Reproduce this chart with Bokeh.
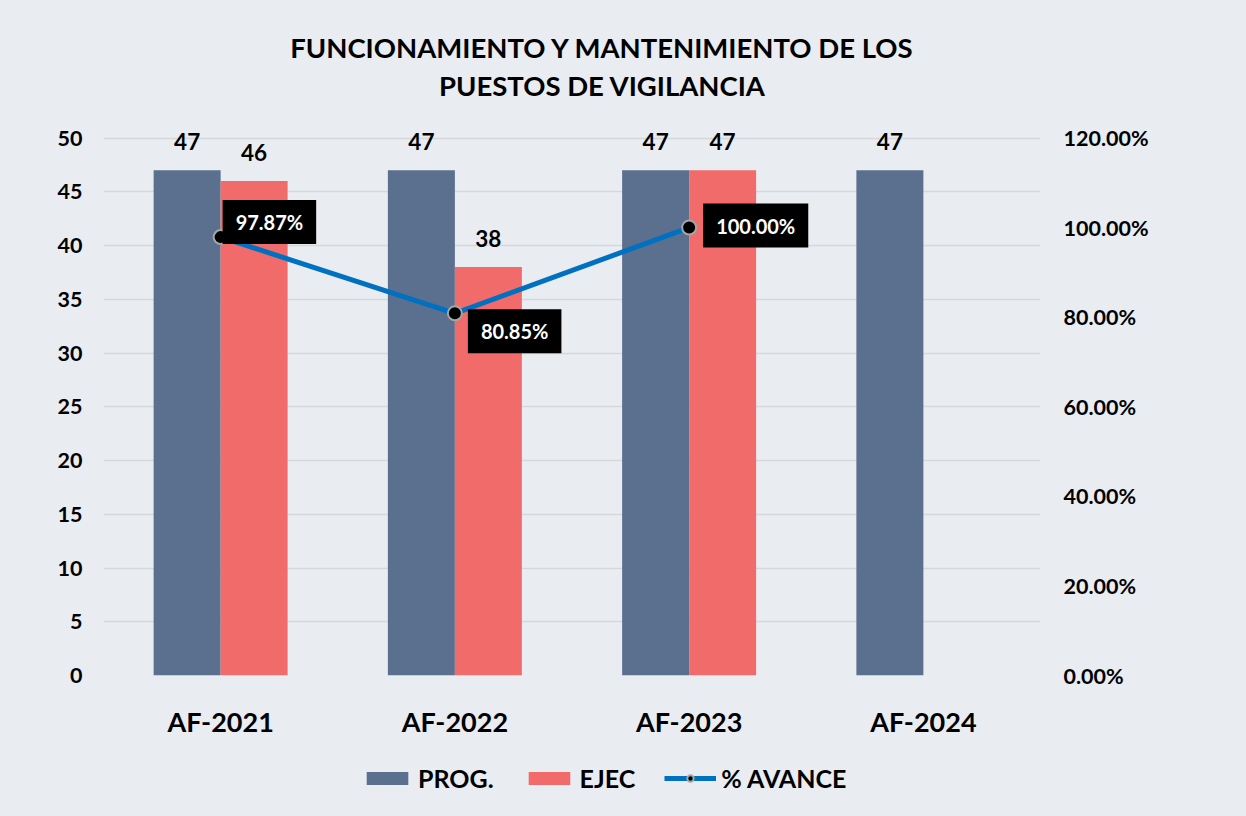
from bokeh.plotting import figure
from bokeh.layouts import column
from bokeh.models import (FactorRange, Range1d, LinearAxis, NumeralTickFormatter,
                          FixedTicker, ColumnDataSource, Label, Legend, LegendItem)
from bokeh.transform import dodge
from bokeh.core.properties import value
from bokeh.embed import file_html
from bokeh.resources import INLINE

# ---- data ----
categories = ["AF-2021", "AF-2022", "AF-2023", "AF-2024"]
prog = [47, 47, 47, 47]
ejec = [46, 38, 47, None]
avance = [0.9787, 0.8085, 1.0, None]
title_lines = ["FUNCIONAMIENTO Y MANTENIMIENTO DE LOS", "PUESTOS DE VIGILANCIA"]
legend_labels = ["PROG.", "EJEC", "% AVANCE"]
y_ticks = list(range(0, 51, 5))
pct_ticks = [0, 0.2, 0.4, 0.6, 0.8, 1.0, 1.2]

BG = "#E9ECF1"
C_PROG = "#5B6F8E"
C_EJEC = "#F26B6B"
C_LINE = "#0070C0"
FONT = "Lato"

W = 1240
FL, FR = 103, 1040          # frame left / right (canvas px)
H_TITLE, H_MAIN, H_LEG = 110, 630, 70
Y_TOP = 52                   # a little headroom above the 50 gridline for labels
PCT_TOP = max(pct_ticks) * Y_TOP / max(y_ticks)


def blank(h):
    f = figure(width=W, height=h, x_range=Range1d(FL, FR), y_range=Range1d(0, h),
               output_backend="svg", toolbar_location=None, x_axis_type=None,
               y_axis_type=None, background_fill_color=BG, border_fill_color=BG,
               outline_line_color=None, min_border=0, min_border_left=FL,
               min_border_right=W - FR, title=None)
    f.grid.visible = False
    return f


# ---- title ----
pt = blank(H_TITLE)
for line, yy in zip(title_lines, (H_TITLE - 47, H_TITLE - 85)):
    pt.add_layout(Label(x=602, y=yy, text=line, text_align="center",
                        text_baseline="middle", text_font=FONT,
                        text_font_style="bold", text_font_size="27.5px",
                        text_color="black"))

# ---- main chart ----
p = figure(width=W, height=H_MAIN, x_range=FactorRange(factors=categories),
           y_range=Range1d(0, Y_TOP), output_backend="svg", toolbar_location=None,
           background_fill_color=BG, border_fill_color=BG, outline_line_color=None,
           min_border_left=FL, min_border_right=W - FR, min_border_top=6,
           min_border_bottom=65, title=None)
p.extra_y_ranges = {"pct": Range1d(0, PCT_TOP)}

src_p = ColumnDataSource(dict(cat=categories, v=prog, t=[str(v) for v in prog]))
e_cats = [c for c, v in zip(categories, ejec) if v is not None]
e_vals = [v for v in ejec if v is not None]
src_e = ColumnDataSource(dict(cat=e_cats, v=e_vals, t=[str(v) for v in e_vals]))

bw = 0.286
p.vbar(x=dodge("cat", -bw / 2, range=p.x_range), top="v", width=bw,
       source=src_p, fill_color=C_PROG, line_color=None)
p.vbar(x=dodge("cat", bw / 2, range=p.x_range), top="v", width=bw,
       source=src_e, fill_color=C_EJEC, line_color=None)

for src, off in ((src_p, -bw / 2), (src_e, bw / 2)):
    p.text(x=dodge("cat", off, range=p.x_range), y="v", text="t", source=src,
           text_align="center", text_baseline="alphabetic", y_offset=-29,
           text_font=value(FONT), text_font_style="bold", text_font_size="22.5px",
           text_color="black")

l_cats = [c for c, v in zip(categories, avance) if v is not None]
l_vals = [v for v in avance if v is not None]
src_l = ColumnDataSource(dict(cat=l_cats, v=l_vals))
p.line(x="cat", y="v", source=src_l, y_range_name="pct",
       line_color=C_LINE, line_width=5)
p.scatter(x="cat", y="v", source=src_l, y_range_name="pct", size=14,
          fill_color="black", line_color="#A6A6A6", line_width=2)

offsets = [(2, 15), (13, -18), (14, 2)]
for i, (c, v) in enumerate(zip(categories, avance)):
    if v is None:
        continue
    xo, yo = offsets[i]
    p.add_layout(Label(x=i + 0.5, y=v, y_range_name="pct", text=f"{v*100:.2f}%",
                       x_offset=xo, y_offset=yo, text_align="left",
                       text_baseline="middle", text_color="white",
                       text_font=FONT, text_font_style="bold", text_font_size="20px",
                       background_fill_color="black", padding=(13, 10)))

p.xgrid.grid_line_color = None
p.ygrid.grid_line_color = "#D5D7DB"
p.ygrid.grid_line_width = 1.5
p.ygrid.ticker = FixedTicker(ticks=y_ticks)

ya = p.yaxis[0]
ya.ticker = FixedTicker(ticks=y_ticks)
ra = LinearAxis(y_range_name="pct", ticker=FixedTicker(ticks=pct_ticks),
                formatter=NumeralTickFormatter(format="0.00%"))
p.add_layout(ra, "right")
for ax, so in ((ya, 21), (ra, 23)):
    ax.axis_line_color = None
    ax.major_tick_line_color = None
    ax.minor_tick_line_color = None
    ax.major_tick_out = 0
    ax.minor_tick_out = 0
    ax.major_label_standoff = so
    ax.major_label_text_font = FONT
    ax.major_label_text_font_style = "bold"
    ax.major_label_text_font_size = "21.5px"
    ax.major_label_text_color = "black"

xa = p.xaxis[0]
xa.axis_line_color = None
xa.major_tick_line_color = None
xa.minor_tick_line_color = None
xa.major_tick_out = 0
xa.minor_tick_out = 0
xa.major_label_standoff = 29
xa.major_label_text_font = FONT
xa.major_label_text_font_style = "bold"
xa.major_label_text_font_size = "27px"
xa.major_label_text_color = "black"

# ---- legend strip (hidden proxy renderers supply the legend swatches) ----
pl = blank(H_LEG)
proxy = ColumnDataSource(dict(x=list(range(len(prog))), v=prog))
g1 = pl.vbar(x="x", top="v", width=0.5, source=proxy, fill_color=C_PROG,
             line_color=None, visible=False)
g2 = pl.vbar(x="x", top="v", width=0.5, source=proxy, fill_color=C_EJEC,
             line_color=None, visible=False)
g3 = pl.line(x="x", y="v", source=proxy, line_color=C_LINE, line_width=5,
             visible=False)
g4 = pl.scatter(x="x", y="v", source=proxy, size=14, fill_color="black",
                line_color="#A6A6A6", line_width=2, visible=False)
legend = Legend(items=[LegendItem(label=legend_labels[0], renderers=[g1]),
                       LegendItem(label=legend_labels[1], renderers=[g2]),
                       LegendItem(label=legend_labels[2], renderers=[g3, g4])],
                orientation="horizontal", location=(361 - FL, 17),
                glyph_width=52, glyph_height=16, label_standoff=5, spacing=29,
                padding=0, margin=0, border_line_color=None,
                background_fill_alpha=0, label_text_font=FONT,
                label_text_font_style="bold", label_text_font_size="25px",
                label_text_color="black")
pl.add_layout(legend, "center")

layout = column(pt, p, pl, spacing=0)
html = file_html(layout, INLINE)
html = html.replace("</head>",
                    "<style>html, body { background-color: #E9ECF1; }</style></head>", 1)
open("out.html", "w").write(html)
